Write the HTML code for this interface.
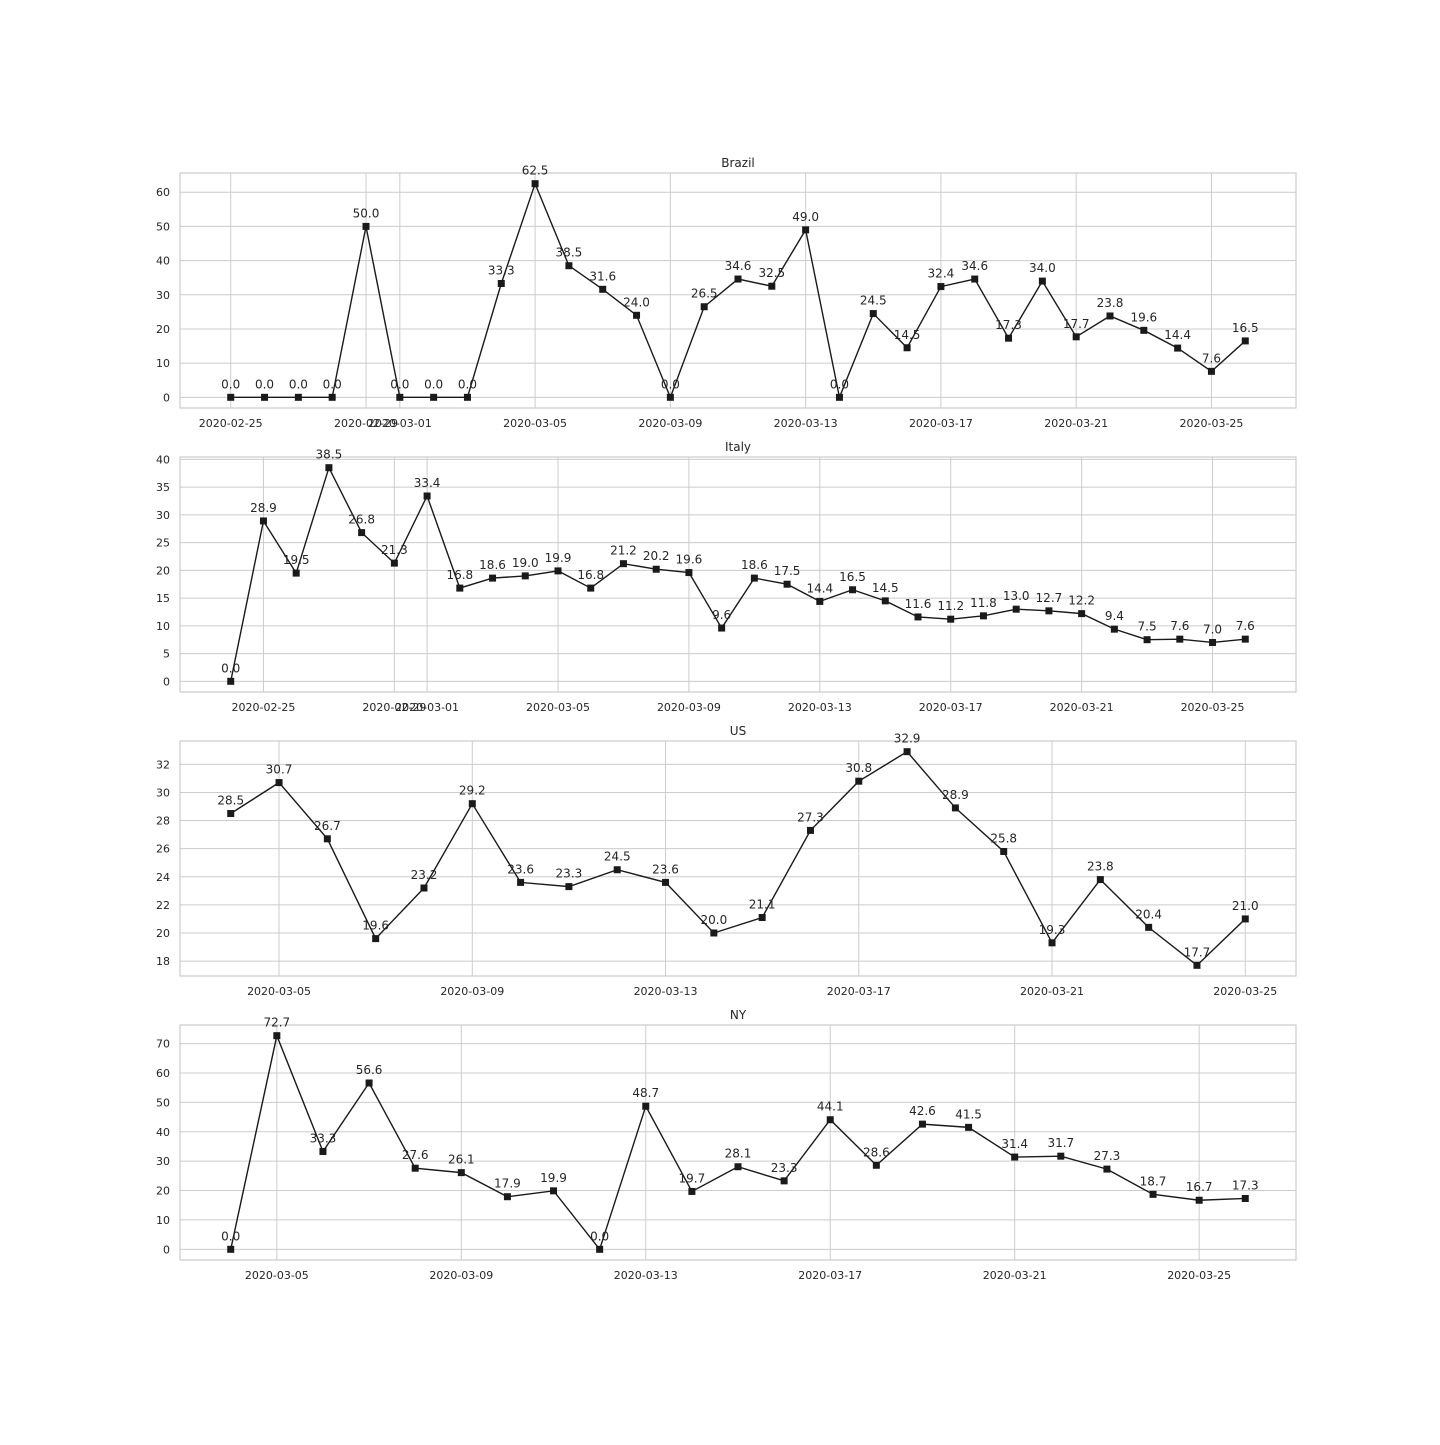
<!DOCTYPE html>
<html><head><meta charset="utf-8"><style>
body{margin:0;background:#fff;}
svg text{font-family:"DejaVu Sans","Liberation Sans",sans-serif;fill:#262626;}
</style></head><body>
<svg id="chart" width="1440" height="1440" xmlns="http://www.w3.org/2000/svg"></svg>
<script>
const brazilStart = "2020-02-25";
const brazilValues = [0,0,0,0,50.0,0,0,0,33.3,62.5,38.5,31.6,24.0,0,26.5,34.6,32.5,49.0,0,24.5,14.5,32.4,34.6,17.3,34.0,17.7,23.8,19.6,14.4,7.6,16.5];
const brazilXTicks = ["2020-02-25","2020-02-29","2020-03-01","2020-03-05","2020-03-09","2020-03-13","2020-03-17","2020-03-21","2020-03-25"];
const brazilYTicks = [0,10,20,30,40,50,60];

const italyStart = "2020-02-24";
const italyValues = [0,28.9,19.5,38.5,26.8,21.3,33.4,16.8,18.6,19.0,19.9,16.8,21.2,20.2,19.6,9.6,18.6,17.5,14.4,16.5,14.5,11.6,11.2,11.8,13.0,12.7,12.2,9.4,7.5,7.6,7.0,7.6];
const italyXTicks = ["2020-02-25","2020-02-29","2020-03-01","2020-03-05","2020-03-09","2020-03-13","2020-03-17","2020-03-21","2020-03-25"];
const italyYTicks = [0,5,10,15,20,25,30,35,40];

const usStart = "2020-03-04";
const usValues = [28.5,30.7,26.7,19.6,23.2,29.2,23.6,23.3,24.5,23.6,20.0,21.1,27.3,30.8,32.9,28.9,25.8,19.3,23.8,20.4,17.7,21.0];
const usXTicks = ["2020-03-05","2020-03-09","2020-03-13","2020-03-17","2020-03-21","2020-03-25"];
const usYTicks = [18,20,22,24,26,28,30,32];

const nyStart = "2020-03-04";
const nyValues = [0,72.7,33.3,56.6,27.6,26.1,17.9,19.9,0,48.7,19.7,28.1,23.3,44.1,28.6,42.6,41.5,31.4,31.7,27.3,18.7,16.7,17.3];
const nyXTicks = ["2020-03-05","2020-03-09","2020-03-13","2020-03-17","2020-03-21","2020-03-25"];
const nyYTicks = [0,10,20,30,40,50,60,70];

const svg = document.getElementById('chart');
const NS = 'http://www.w3.org/2000/svg';
function mk(tag, attrs){const e=document.createElementNS(NS,tag);for(const k in attrs)e.setAttribute(k,attrs[k]);svg.appendChild(e);return e;}
function dayNum(s){return Date.UTC(+s.slice(0,4),+s.slice(5,7)-1,+s.slice(8,10))/86400000;}

function drawPanel(key,title,start,values,xTicks,yTicks,top){
  const L=180,R=1296,T=top,B=top+235;
  const s0=dayNum(start), n=values.length;
  const xmin=-0.05*(n-1), xmax=(n-1)*1.05;
  const vmin=Math.min(...values), vmax=Math.max(...values), span=vmax-vmin;
  const ymin=vmin-0.05*span, ymax=vmax+0.05*span;
  const xs=d=>L+(d-xmin)/(xmax-xmin)*(R-L);
  const ys=v=>B-(v-ymin)/(ymax-ymin)*(B-T);
  let e;
  yTicks.forEach(t=>{
    const y=ys(t);
    e=mk('line',{x1:L,x2:R,y1:y,y2:y,stroke:'#cccccc','stroke-width':1});
    
    
    e=mk('text',{x:L-10,y:y+4,'text-anchor':'end','font-size':11});
    e.textContent=t;
    
    
  });
  xTicks.forEach(t=>{
    const x=xs(dayNum(t)-s0);
    e=mk('line',{x1:x,x2:x,y1:T,y2:B,stroke:'#cccccc','stroke-width':1});
    
    
    e=mk('text',{x:x,y:B+19,'text-anchor':'middle','font-size':11});
    e.textContent=t;
    
    
  });
  e=mk('rect',{x:L,y:T,width:R-L,height:B-T,fill:'none',stroke:'#cccccc','stroke-width':1.2});
  
  
  e=mk('text',{x:(L+R)/2,y:T-6,'text-anchor':'middle','font-size':12});
  e.textContent=title;
  
  
  const pts=values.map((v,i)=>xs(i).toFixed(2)+','+ys(v).toFixed(2)).join(' ');
  e=mk('polyline',{points:pts,fill:'none',stroke:'#1a1a1a','stroke-width':1.4});
  
  
  values.forEach((v,i)=>{
    const x=xs(i),y=ys(v);
    e=mk('rect',{x:x-3.5,y:y-3.5,width:7,height:7,fill:'#1a1a1a'});
    
    
    e=mk('text',{x:x,y:y-9,'text-anchor':'middle','font-size':12});
    e.textContent=v.toFixed(1);
    
    
  });
}
drawPanel('brazil','Brazil',brazilStart,brazilValues,brazilXTicks,brazilYTicks,173);
drawPanel('italy','Italy',italyStart,italyValues,italyXTicks,italyYTicks,457);
drawPanel('us','US',usStart,usValues,usXTicks,usYTicks,741);
drawPanel('ny','NY',nyStart,nyValues,nyXTicks,nyYTicks,1025);
</script>
</body></html>
